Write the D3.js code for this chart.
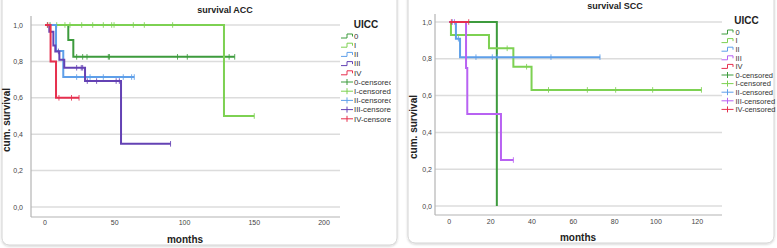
<!DOCTYPE html>
<html>
<head>
<meta charset="utf-8">
<script src="https://cdn.jsdelivr.net/npm/d3@7"></script>
<style>
  body { margin: 0; background: #fff; }
  svg { font-family: "Liberation Sans", Arial, sans-serif; }
</style>
</head>
<body>
<div id="chart"></div>
<script>
// group names + legend labels
var groups = ["0", "I", "II", "III", "IV"];
var legendLabels = ["0", "I", "II", "III", "IV", "0-censored", "I-censored", "II-censored", "III-censored", "IV-censored"];
var yTicks = [0, 0.2, 0.4, 0.6, 0.8, 1.0];

// ACC: steps are [months, survival after the drop], end = last follow up
var accSteps = {
  "0":   [[0, 1], [16.7, 0.917], [20.3, 0.825]],
  "I":   [[0, 1], [128.3, 0.5]],
  "II":  [[0, 1], [7.9, 0.857], [13.1, 0.714]],
  "III": [[0, 1], [3.1, 0.963], [6, 0.888], [7.4, 0.855], [10.3, 0.809], [13.8, 0.765], [28.7, 0.692], [54.5, 0.347]],
  "IV":  [[0, 1], [4, 0.8], [7.9, 0.6]]
};
var accEnd = { "0": 136, "I": 150, "II": 64, "III": 90, "IV": 24.4 };
var accCensored = {
  "0":   [1.7, 3.6, 22.7, 27, 30.1, 45.4, 46.2, 95, 102, 132, 136],
  "I":   [8.4, 14.3, 17.9, 26.3, 34.2, 41.8, 47.8, 49.5, 63.3, 71.2, 91.5, 150],
  "II":  [22.7, 32.3, 41.8, 56.1, 62.1, 64],
  "III": [9.6, 22.7, 26, 27, 30.3, 37, 51, 53.3, 90],
  "IV":  [2, 10, 19, 24.4]
};
var accXTicks = [0, 50, 100, 150, 200];

// SCC
var sccSteps = {
  "0":   [[0, 1], [23, 0]],
  "I":   [[0, 1], [0.8, 0.929], [19.2, 0.857], [31, 0.757], [39.8, 0.631]],
  "II":  [[0, 1], [3.2, 0.909], [5.2, 0.809]],
  "III": [[0, 1], [8.1, 0.75], [8.7, 0.5], [25, 0.25]],
  "IV":  [[0, 1]]
};
var sccEnd = { "0": 23, "I": 122, "II": 73, "III": 31, "IV": 9.4 };
var sccCensored = {
  "0":   [],
  "I":   [28, 37.4, 48, 66.8, 80.5, 98.4, 122],
  "II":  [1.5, 4.4, 12.9, 20.8, 23.2, 49.2, 72.9],
  "III": [2.5, 31],
  "IV":  [1, 9.4]
};
var sccXTicks = [0, 20, 40, 60, 80, 100, 120];

var accColors = { "0": "#3d9b3d", "I": "#7dd152", "II": "#5e9fe9", "III": "#6442b4", "IV": "#e6304f" };
var sccColors = { "0": "#3d9b3d", "I": "#7dd152", "II": "#5e9fe9", "III": "#b862f2", "IV": "#e6304f" };

var svg = d3.select("#chart").append("svg")
  .attr("width", 777).attr("height", 248);

var defs = svg.append("defs");
var shadow = defs.append("filter").attr("id", "sh").attr("x", "-5%").attr("y", "-5%").attr("width", "110%").attr("height", "110%");
shadow.append("feDropShadow").attr("dx", 0).attr("dy", 1).attr("stdDeviation", 1.2).attr("flood-color", "#000").attr("flood-opacity", 0.18);

defs.append("clipPath").attr("id", "clipL").append("rect")
  .attr("x", 0).attr("y", 0).attr("width", 391).attr("height", 248);

// panel boxes
svg.append("rect").attr("x", 2).attr("y", -12).attr("width", 395).attr("height", 257)
  .attr("rx", 7).attr("fill", "#fff").attr("stroke", "#d4d4d4").attr("filter", "url(#sh)");
svg.append("rect").attr("x", 408).attr("y", -12).attr("width", 366).attr("height", 255)
  .attr("rx", 7).attr("fill", "#fff").attr("stroke", "#d4d4d4").attr("filter", "url(#sh)");

function survAt(steps, t) {
  var s = 1;
  steps.forEach(function (d) { if (d[0] <= t) s = d[1]; });
  return s;
}

function drawPanel(cfg) {
  var g = svg.append("g");
  if (cfg.clip) g.attr("clip-path", "url(#" + cfg.clip + ")");

  var x = d3.scaleLinear().domain(cfg.xDomain).range(cfg.xRange);
  var y = d3.scaleLinear().domain([0, 1]).range(cfg.yRange);

  // grid lines
  g.selectAll(".grid").data(yTicks).enter().append("line")
    .attr("x1", cfg.axisX).attr("x2", cfg.axisRight)
    .attr("y1", function (d) { return y(d); })
    .attr("y2", function (d) { return y(d); })
    .attr("stroke", "#dcdcdc").attr("stroke-width", 1.5);

  // axis lines
  g.append("line").attr("x1", cfg.axisX).attr("x2", cfg.axisX)
    .attr("y1", cfg.axisTop).attr("y2", cfg.axisBottom)
    .attr("stroke", "#b4b4b4").attr("stroke-width", 1.2);
  g.append("line").attr("x1", cfg.axisX).attr("x2", cfg.axisRight)
    .attr("y1", cfg.axisBottom).attr("y2", cfg.axisBottom)
    .attr("stroke", "#b4b4b4").attr("stroke-width", 1.2);

  // tick labels
  g.selectAll(".ylab").data(yTicks).enter().append("text")
    .attr("x", cfg.yLabX).attr("y", function (d) { return y(d) + 2.5; })
    .attr("text-anchor", "end").attr("font-size", 7).attr("fill", "#444")
    .text(function (d) { return d3.format(".1f")(d).replace(".", ","); });
  g.selectAll(".xlab").data(cfg.xTicks).enter().append("text")
    .attr("x", function (d) { return x(d); }).attr("y", cfg.xLabY)
    .attr("text-anchor", "middle").attr("font-size", 7).attr("fill", "#444")
    .text(function (d) { return d; });

  // titles
  g.append("text").attr("x", cfg.titleX).attr("y", cfg.titleY)
    .attr("text-anchor", "middle").attr("font-size", 9).attr("font-weight", "bold").attr("fill", "#222")
    .text(cfg.title);
  g.append("text").attr("x", cfg.monthsX).attr("y", cfg.monthsY)
    .attr("text-anchor", "middle").attr("font-size", 10).attr("font-weight", "bold").attr("fill", "#222")
    .text("months");
  g.append("text")
    .attr("transform", "translate(" + cfg.cumX + "," + cfg.cumY + ") rotate(-90)")
    .attr("text-anchor", "middle").attr("font-size", 10).attr("font-weight", "bold").attr("fill", "#222")
    .text("cum. survival");

  // survival curves
  groups.forEach(function (k) {
    var steps = cfg.steps[k];
    var pts = [];
    steps.forEach(function (d) { pts.push([d[0], d[1]]); });
    pts.push([cfg.end[k], steps[steps.length - 1][1]]);
    var line = d3.line()
      .x(function (d) { return x(d[0]); })
      .y(function (d) { return y(d[1]); })
      .curve(d3.curveStepAfter);
    g.append("path").datum(pts)
      .attr("d", line).attr("fill", "none")
      .attr("stroke", cfg.colors[k]).attr("stroke-width", 2);

    g.selectAll(null).data(cfg.censored[k]).enter().append("line")
      .attr("x1", function (d) { return x(d); })
      .attr("x2", function (d) { return x(d); })
      .attr("y1", function (d) { return y(survAt(steps, d)) - 2.8; })
      .attr("y2", function (d) { return y(survAt(steps, d)) + 2.8; })
      .attr("stroke", cfg.colors[k]).attr("stroke-width", 1).attr("opacity", 0.85);
  });

  // legend
  g.append("text").attr("x", cfg.legX + 25).attr("y", cfg.legTitleY)
    .attr("text-anchor", "middle").attr("font-size", 10).attr("font-weight", "bold").attr("fill", "#222")
    .text("UICC");
  var items = g.selectAll(".leg").data(legendLabels).enter().append("g")
    .attr("transform", function (d, i) { return "translate(" + cfg.legX + "," + (cfg.legY + i * cfg.legStep) + ")"; });
  items.each(function (d, i) {
    var it = d3.select(this);
    var col = cfg.colors[groups[i % 5]];
    if (i < 5) {
      it.append("path").attr("d", "M0,2H6V-2H11.5V0.5")
        .attr("fill", "none").attr("stroke", col).attr("stroke-width", 1);
    } else {
      it.append("path").attr("d", "M0,0H12M6,-3V3")
        .attr("fill", "none").attr("stroke", col).attr("stroke-width", 1);
    }
    it.append("text").attr("x", cfg.legTextDx).attr("y", 2.8)
      .attr("font-size", cfg.legFont).attr("fill", "#333").text(d);
  });
}

drawPanel({
  title: "survival ACC", steps: accSteps, end: accEnd, censored: accCensored, colors: accColors,
  xDomain: [0, 200], xRange: [45, 324], yRange: [207, 25], xTicks: accXTicks,
  axisX: 31, axisRight: 340, axisTop: 16, axisBottom: 217,
  yLabX: 23, xLabY: 225, titleX: 225, titleY: 13, monthsX: 185, monthsY: 243,
  cumX: 10, cumY: 120, legX: 341, legY: 36, legStep: 9.2, legTitleY: 28, legFont: 7.8, legTextDx: 13,
  clip: "clipL"
});

drawPanel({
  title: "survival SCC", steps: sccSteps, end: sccEnd, censored: sccCensored, colors: sccColors,
  xDomain: [0, 120], xRange: [449.3, 697.3], yRange: [206, 22], xTicks: sccXTicks,
  axisX: 435, axisRight: 722, axisTop: 14, axisBottom: 215,
  yLabX: 432, xLabY: 224, titleX: 615, titleY: 9, monthsX: 578, monthsY: 241,
  cumX: 417, cumY: 127, legX: 721.5, legY: 32, legStep: 8.6, legTitleY: 24, legFont: 7.5, legTextDx: 14
});
</script>
</body>
</html>
